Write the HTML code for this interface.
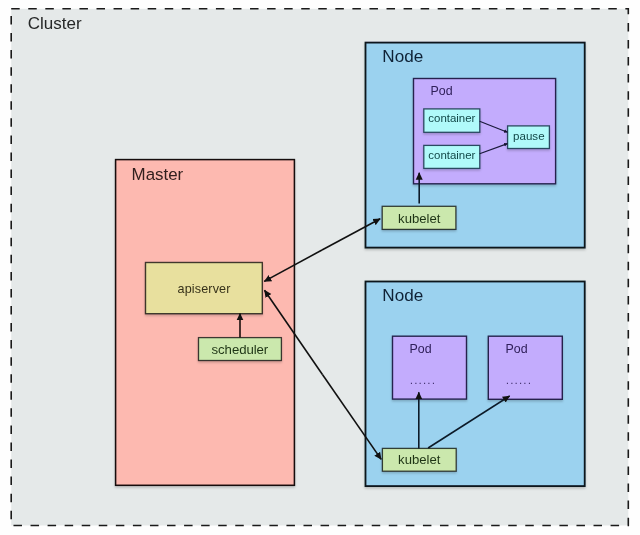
<!DOCTYPE html>
<html><head><meta charset="utf-8">
<style>
html,body{margin:0;padding:0;background:#fefefe;width:640px;height:535px;overflow:hidden}
svg{display:block;will-change:transform}
text{font-family:"Liberation Sans",sans-serif}
</style></head>
<body>
<svg width="640" height="535" viewBox="0 0 640 535">
<defs>
<marker id="ah" markerWidth="8" markerHeight="8" refX="7" refY="4" orient="auto" markerUnits="userSpaceOnUse">
<path d="M0,0.5 L7.5,4 L0,7.5 Z" fill="#111"/>
</marker>
<marker id="ahs" markerWidth="5" markerHeight="5" refX="3.4" refY="2.5" orient="auto" markerUnits="userSpaceOnUse">
<path d="M0,0.6 L3.6,2.5 L0,4.4 Z" fill="#14122e"/>
</marker>
<filter id="sh" x="-10%" y="-10%" width="120%" height="130%"><feDropShadow dx="0" dy="1.6" stdDeviation="1.1" flood-color="#000" flood-opacity="0.2"/></filter>
</defs>
<!-- cluster -->
<rect x="11.2" y="8.8" width="617.1" height="516.7" fill="#e5e9e9"/>
<path d="M11.2 8.8 H628.3 V525.5 H11.2 Z" fill="none" stroke="#1a1a1a" stroke-width="1.6" stroke-dasharray="8.5 8.56"/>
<text x="27.8" y="28.8" font-size="17" fill="#262828">Cluster</text>

<!-- master -->
<rect x="115.6" y="159.6" width="178.8" height="325.7" fill="#fdb9b0" stroke="#120808" stroke-width="1.5" filter="url(#sh)"/>
<text x="131.6" y="180.3" font-size="16.9" fill="#33201e">Master</text>

<rect x="145.5" y="262.5" width="116.8" height="51.2" fill="#e8e09e" stroke="rgba(0,0,0,0.72)" stroke-width="1.4" filter="url(#sh)"/>
<text x="177.5" y="293.2" font-size="12.6" fill="#37321a" letter-spacing="0.14">apiserver</text>

<rect x="198.5" y="337.6" width="82.9" height="22.9" fill="#cbe8ad" stroke="rgba(0,0,0,0.72)" stroke-width="1.3" filter="url(#sh)"/>
<text x="211.6" y="353.8" font-size="13.2" fill="#1e3415" letter-spacing="-0.08">scheduler</text>

<!-- node 1 -->
<rect x="365.5" y="42.6" width="219.2" height="205" fill="#9bd2ef" stroke="#08121c" stroke-width="1.8" filter="url(#sh)"/>
<text x="382.3" y="62.3" font-size="17.1" fill="#0f2236">Node</text>

<rect x="413.5" y="78.5" width="142.1" height="105.3" fill="#c3acfd" stroke="#26244e" stroke-width="1.4" filter="url(#sh)"/>
<text x="430.6" y="94.8" font-size="12.4" fill="#30205a">Pod</text>

<rect x="423.8" y="108.9" width="56" height="23.4" fill="#b0fafa" stroke="#2c4862" stroke-width="1.3" filter="url(#sh)"/>
<text x="428.3" y="122.4" font-size="11.45" fill="#124848">container</text>
<rect x="423.8" y="145.4" width="56" height="23" fill="#b0fafa" stroke="#2c4862" stroke-width="1.3" filter="url(#sh)"/>
<text x="428.3" y="159.4" font-size="11.45" fill="#124848">container</text>
<rect x="507.6" y="125.9" width="41.8" height="22.6" fill="#b0fafa" stroke="#2c4862" stroke-width="1.3" filter="url(#sh)"/>
<text x="513.1" y="139.6" font-size="11.55" fill="#124848">pause</text>

<rect x="382.2" y="206.3" width="73.7" height="23.1" fill="#cbe8ad" stroke="rgba(0,0,0,0.72)" stroke-width="1.3" filter="url(#sh)"/>
<text x="398.1" y="222.8" font-size="13.1" fill="#1e3415">kubelet</text>

<!-- node 2 -->
<rect x="365.5" y="281.5" width="219.2" height="204.6" fill="#9bd2ef" stroke="#08121c" stroke-width="1.8" filter="url(#sh)"/>
<text x="382.3" y="301.4" font-size="17.1" fill="#0f2236">Node</text>

<rect x="392.5" y="336.2" width="74" height="62.9" fill="#c3acfd" stroke="#26244e" stroke-width="1.4" filter="url(#sh)"/>
<text x="409.5" y="353.1" font-size="12.4" fill="#30205a">Pod</text>
<text x="410" y="384.3" font-size="10" fill="#30205a" letter-spacing="1.6">......</text>
<rect x="488.3" y="336.2" width="74" height="63.1" fill="#c3acfd" stroke="#26244e" stroke-width="1.4" filter="url(#sh)"/>
<text x="505.5" y="353.1" font-size="12.4" fill="#30205a">Pod</text>
<text x="506" y="384.3" font-size="10" fill="#30205a" letter-spacing="1.6">......</text>

<rect x="382.4" y="448.4" width="73.8" height="22.8" fill="#cbe8ad" stroke="rgba(0,0,0,0.72)" stroke-width="1.3" filter="url(#sh)"/>
<text x="398.1" y="464.4" font-size="13.1" fill="#1e3415">kubelet</text>

<!-- arrows -->
<g stroke="#111" stroke-width="1.6" fill="none">
<line x1="479.6" y1="121.3" x2="507.4" y2="132.2" marker-end="url(#ahs)" stroke="#1a1a3a" stroke-width="1.2"/>
<line x1="479.6" y1="153.7" x2="507.4" y2="143.6" marker-end="url(#ahs)" stroke="#1a1a3a" stroke-width="1.2"/>
<line x1="419.2" y1="203.6" x2="419.2" y2="172.8" marker-end="url(#ah)" stroke="#0c1a28"/>
<line x1="240" y1="337.5" x2="240" y2="313.4" marker-end="url(#ah)" stroke="#1a0e0c"/>
<line x1="322" y1="250" x2="264.2" y2="281.4" marker-end="url(#ah)"/>
<line x1="322" y1="250" x2="380.2" y2="218.8" marker-end="url(#ah)"/>
<line x1="322.6" y1="374.75" x2="264.5" y2="290.2" marker-end="url(#ah)"/>
<line x1="322.6" y1="374.75" x2="381.2" y2="459.4" marker-end="url(#ah)"/>
<line x1="418.8" y1="448.4" x2="418.8" y2="392.3" marker-end="url(#ah)" stroke="#0c1a28"/>
<line x1="428.1" y1="448" x2="509.7" y2="395.9" marker-end="url(#ah)" stroke="#0c1a28"/>
</g>
</svg>
</body></html>
